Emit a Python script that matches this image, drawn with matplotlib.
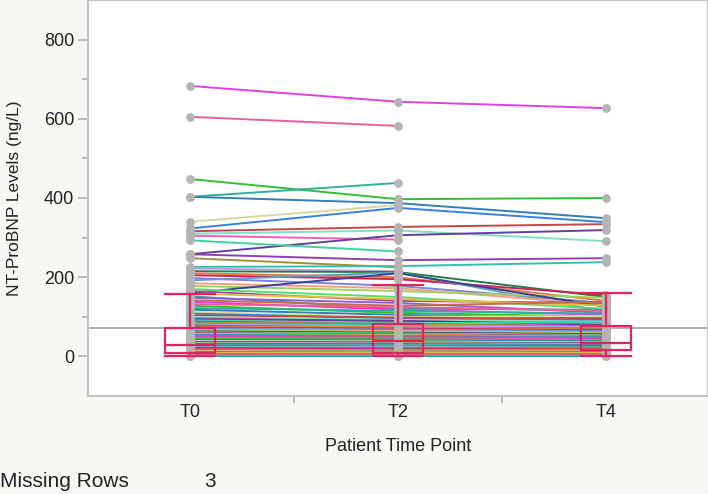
import numpy as np
import matplotlib
matplotlib.use("Agg")
import matplotlib.pyplot as plt
from matplotlib.ticker import FixedLocator

nan = np.nan

# time points
time_labels = ["T0", "T2", "T4"]

# NT-ProBNP per patient (nan = missing)
t0_vals = [683, 605, 448, 403, 403, 340, 323, 316, 310, 305, 258, 293, 258, 248, 226,
           222, 215, 210, 205, 198, 192, 185, 178, 160, 170, 165, 158, 152, 148, 142,
           138, 132, 128, 122, 118, 112, 108, 104, 100,
           97, 94, 91, 88, 86, 83, 80, 78, 76, 73, 71, 69, 67, 65, 63, 61, 59, 57,
           55, 53, 51, 49, 47, 45, 43, 41, 39, 37, 35, 33, 31, 30, 28, 27, 25, 24,
           22, 21, 19, 18, 16, 15, 14, 12, 11, 10, 9, 8, 7, 6, 5, 4, 3, 2, 1]
t2_vals = [643, 582, 397, 438, 387, 382, 375, 327, 318, 295, 306, 265, 243, 225, 228,
           215, 213, 200, 195, 178, 212, 172, 165, 210, 150, 140, 145, 120, 135, 128,
           118, 125, 110, 115, 105, 100, 96, 98, 92,
           88, 90, 84, 80, 82, 78, 76, 72, 74, 70, 68, 66, 64, 62, 60, 58, 56, 54,
           52, 50, 48, 47, 45, 43, 41, 40, 38, 36, 34, 33, 32, 30, 29, 27, 26, 24,
           23, 21, 20, 19, 17, 16, 14, 13, 12, 11, 9, 8, 7, 6, 5, 4, 3, 2, 1]
t4_vals = [627, nan, 400, nan, 349, nan, 339, 334, 291, nan, 319, nan, 248, nan, 238,
           nan, 150, 140, 155, 135, 112, 130, 148, 125, 120, 135, 128, 118, 110, 138,
           105, 115, 100, 108, 96, 102, 90, 94, 88,
           85, 80, 86, 78, 75, 72, 74, 70, 68, 66, 64, 62, 60, 58, 56, 54, 52, 50,
           49, 47, 45, 44, 42, 40, 38, 37, 35, 33, 32, 31, 30, 28, 27, 26, 24, 23,
           21, 20, 19, 17, 16, 15, 13, 12, 11, 10, 9, 8, 7, 6, 5, 4, 3, 2, 1]

# box plot summaries
box_q1 = [8, 8, 15]
box_med = [30, 38, 33]
box_q3 = [71, 83, 78]
box_lo = [0, 0, 0]
box_hi = [157, 180, 159]
grand_mean = 72

line_colors = ["#e040e0", "#e8609a", "#30c030", "#30b0a0", "#3080b0", "#d8d8a0",
               "#3a80e0", "#c04848", "#80e0c0", "#f060b0", "#6040a0", "#40d0a0",
               "#9040b0", "#a09040", "#30c0b0", "#c0a0e0", "#208040", "#e08040",
               "#d02060", "#8080e0", "#60a0c0", "#f0a080", "#a0d060", "#404090",
               "#50e070", "#b05090", "#e0c040", "#40a0a0", "#9060d0", "#c07050"]

fig = plt.figure(figsize=(7.08, 4.94), dpi=100, facecolor="#f7f7f4")
ax = fig.add_axes([88/708, 98/494, 620/708, 396/494])
ax.set_facecolor("white")

x = [0, 1, 2]
for i in range(len(t0_vals)):
    ys = [t0_vals[i], t2_vals[i], t4_vals[i]]
    ax.plot(x, ys, color=line_colors[i % len(line_colors)], lw=1.4, zorder=2)

for xi, vals in zip(x, [t0_vals, t2_vals, t4_vals]):
    v = [a for a in vals if not np.isnan(a)]
    ax.scatter([xi] * len(v), v, s=40, color="#b4b4b4", zorder=3, linewidths=0)

ax.axhline(grand_mean, color="#b0b0b0", lw=1.5, zorder=1)

stats = []
for i in range(3):
    stats.append(dict(med=box_med[i], q1=box_q1[i], q3=box_q3[i],
                      whislo=box_lo[i], whishi=box_hi[i], fliers=[]))
bc = "#e0245e"
pr = dict(color=bc, lw=1.6, zorder=5)
ax.bxp(stats, positions=x, widths=0.24, capwidths=0.24, showfliers=False,
       boxprops=pr, whiskerprops=pr, capprops=pr, medianprops=pr,
       manage_ticks=False)

ax.set_xlim(-0.49, 2.49)
ax.set_ylim(-100, 900)

ax.set_xticks(x)
ax.set_xticklabels(time_labels)
ax.xaxis.set_minor_locator(FixedLocator([0.5, 1.5]))
ax.tick_params(axis="x", which="major", length=0, pad=6, labelsize=13, labelcolor="#222222")
ax.tick_params(axis="x", which="minor", length=5, color="#b0b0b0", width=1.2)

ax.yaxis.set_major_locator(FixedLocator([0, 200, 400, 600, 800]))
ax.yaxis.set_minor_locator(FixedLocator([100, 300, 500, 700]))
ax.tick_params(axis="y", which="major", length=7, color="#b0b0b0", width=1.2,
               labelsize=13, labelcolor="#222222", pad=3)
ax.tick_params(axis="y", which="minor", length=4, color="#b0b0b0", width=1.2)

for s in ax.spines.values():
    s.set_color("#c4c4c4")
    s.set_linewidth(1.5)

ax.set_ylabel("NT-ProBNP Levels (ng/L)", fontsize=12.5, color="#222222")
ax.yaxis.set_label_coords(-0.106, 0.5)
ax.set_xlabel("Patient Time Point", fontsize=13, color="#222222")
ax.xaxis.set_label_coords(0.5, -0.106)

fig.text(0.0, 0.025, "Missing Rows", fontsize=15, color="#222222", va="center")
fig.text(0.296, 0.025, "3", fontsize=15, color="#222222", va="center", ha="center")

for t in fig.findobj(matplotlib.text.Text):
    t.set_family("Liberation Sans")

fig.savefig("out.png", dpi=100, facecolor=fig.get_facecolor())
